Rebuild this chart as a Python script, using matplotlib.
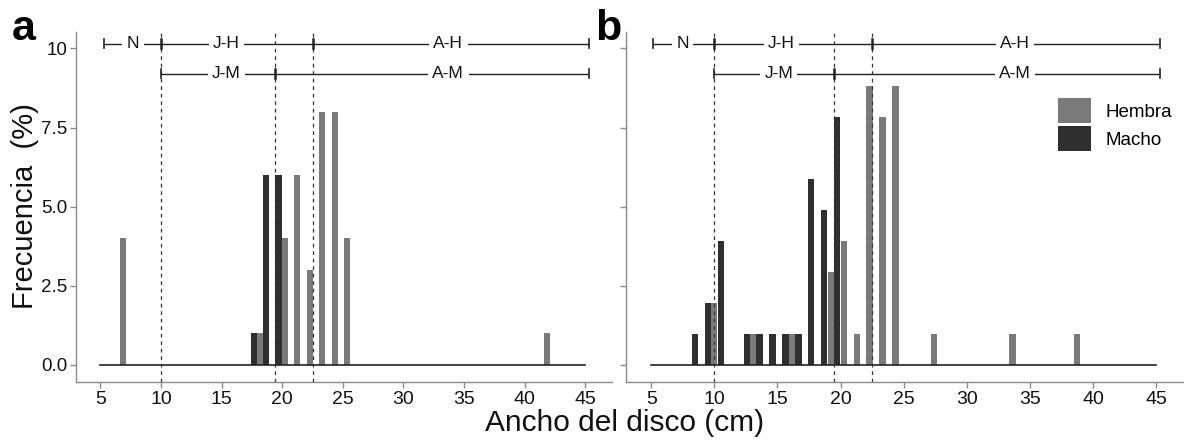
import matplotlib
matplotlib.use("Agg")
import matplotlib.pyplot as plt
from matplotlib.patches import Patch

plt.rcParams['font.family'] = ['Liberation Sans', 'DejaVu Sans']

# ---------------- data ----------------
# Panel a (bar centres, % frequency)
a_hembra_x = [6.85, 18.19, 20.2, 21.22, 22.27, 23.29, 24.32, 25.37, 41.85]
a_hembra_y = [4, 1, 4, 6, 3, 8, 8, 4, 1]
a_macho_x = [17.69, 18.68, 19.70]
a_macho_y = [1, 6, 6]

# Panel b
b_macho_x = [8.44, 9.5, 10.52, 12.58, 13.57, 14.6, 15.63, 16.66, 17.66, 18.71, 19.74]
b_macho_y = [0.98, 1.96, 3.92, 0.98, 0.98, 0.98, 0.98, 0.98, 5.88, 4.90, 7.84]
b_hembra_x = [9.99, 13.08, 16.14, 19.22, 20.25, 21.3, 22.3, 23.33, 24.35, 27.41, 33.61, 38.75]
b_hembra_y = [1.96, 0.98, 0.98, 2.94, 3.92, 0.98, 8.82, 7.84, 8.82, 0.98, 0.98, 0.98]

# Stage ranges (row 1: hembras, row 2: machos)
a_row1_breaks = [5.3, 10, 22.57, 45.3]
a_row1_labels = ["N", "J-H", "A-H"]
a_row1_labx = [7.7, 15.4, 33.7]
a_row2_breaks = [10, 19.45, 45.3]
a_row2_labels = ["J-M", "A-M"]
a_row2_labx = [15.4, 33.7]
a_dashed = [10, 19.45, 22.57]

b_row1_breaks = [5.1, 10, 22.47, 45.3]
b_row1_labels = ["N", "J-H", "A-H"]
b_row1_labx = [7.5, 15.3, 33.8]
b_row2_breaks = [10, 19.5, 45.3]
b_row2_labels = ["J-M", "A-M"]
b_row2_labx = [15.1, 33.8]
b_dashed = [10, 19.5, 22.47]

x_ticks = [5, 10, 15, 20, 25, 30, 35, 40, 45]
y_ticks = [0.0, 2.5, 5.0, 7.5, 10.0]
y_ticklabels = ["0.0", "2.5", "5.0", "7.5", "10"]

c_hembra = "#7a7a7a"
c_macho = "#2f2f2f"
spine_c = "#8c8c8c"

W, H = 1184, 441
fig = plt.figure(figsize=(W / 100, H / 100), dpi=100)

ax_a = fig.add_axes([76 / W, 1 - 381.7 / H, (612 - 76) / W, (381.7 - 32) / H])
ax_b = fig.add_axes([626 / W, 1 - 381.7 / H, (1184 - 626) / W, (381.7 - 32) / H])

ROW1, ROW2 = 10.15, 9.2


def draw_bracket(ax, breaks, labels, labx, y):
    ax.plot([breaks[0], breaks[-1]], [y, y], color="#222222", lw=1.0, zorder=4,
            solid_capstyle="butt")
    for i, b in enumerate(breaks):
        lw = 1.2 if i in (0, len(breaks) - 1) else 1.8
        ax.plot([b, b], [y - 0.14, y + 0.14], color="#222222", lw=lw, zorder=4)
    for lab, lx in zip(labels, labx):
        ax.text(lx, y, lab, ha="center", va="center", fontsize=12.5, color="#111111",
                zorder=5,
                bbox=dict(boxstyle="square,pad=0.25", fc="white", ec="none"))


def panel(ax, hx, hy, mx, my, r1b, r1l, r1x, r2b, r2l, r2x, dashed, show_ylabels):
    ax.bar(hx, hy, width=0.5, color=c_hembra, edgecolor="none", zorder=2)
    ax.bar(mx, my, width=0.5, color=c_macho, edgecolor="none", zorder=2)
    ax.plot([5, 45], [0, 0], color="#222222", lw=1.2, zorder=3)
    for d in dashed:
        ax.axvline(d, color="#333333", lw=0.9, ls=(0, (3, 3)), zorder=3)
    draw_bracket(ax, r1b, r1l, r1x, ROW1)
    draw_bracket(ax, r2b, r2l, r2x, ROW2)
    ax.set_xlim(3.0, 47.2)
    ax.set_ylim(-0.53, 10.52)
    ax.set_xticks(x_ticks)
    ax.set_xticklabels([str(t) for t in x_ticks])
    ax.set_yticks(y_ticks)
    if show_ylabels:
        ax.set_yticklabels(y_ticklabels)
    else:
        ax.set_yticklabels([])
    for s in ("top", "right"):
        ax.spines[s].set_visible(False)
    for s in ("left", "bottom"):
        ax.spines[s].set_color(spine_c)
        ax.spines[s].set_linewidth(1.0)
    ax.tick_params(axis="both", colors=spine_c, labelcolor="#111111",
                   labelsize=14, length=4, width=1.0, pad=3)
    ax.tick_params(axis="y", labelsize=13.5, pad=2)
    ax.set_facecolor("white")


panel(ax_a, a_hembra_x, a_hembra_y, a_macho_x, a_macho_y,
      a_row1_breaks, a_row1_labels, a_row1_labx,
      a_row2_breaks, a_row2_labels, a_row2_labx, a_dashed, True)
panel(ax_b, b_hembra_x, b_hembra_y, b_macho_x, b_macho_y,
      b_row1_breaks, b_row1_labels, b_row1_labx,
      b_row2_breaks, b_row2_labels, b_row2_labx, b_dashed, False)

handles = [Patch(facecolor=c_hembra, edgecolor="none", label="Hembra"),
           Patch(facecolor=c_macho, edgecolor="none", label="Macho")]
fig.legend(handles=handles, loc="upper left",
           bbox_to_anchor=(1058 / W, 1 - 98 / H), frameon=False, fontsize=13.5,
           handlelength=1.75, handleheight=1.7, labelspacing=0.15,
           handletextpad=0.8, borderpad=0, borderaxespad=0)

fig.text(625 / W, 1 - 423 / H, "Ancho del disco (cm)", ha="center", va="center",
         fontsize=21.5, color="#111111")
fig.text(25 / W, 1 - 206 / H, "Frecuencia  (%)", ha="center", va="center",
         rotation=90, fontsize=21, color="#111111")
fig.text(12 / W, 1 - 40 / H, "a", ha="left", va="baseline", fontsize=31,
         fontweight="bold")
fig.text(595 / W, 1 - 40 / H, "b", ha="left", va="baseline", fontsize=31,
         fontweight="bold")

fig.savefig("out.png", dpi=100, facecolor="white")
